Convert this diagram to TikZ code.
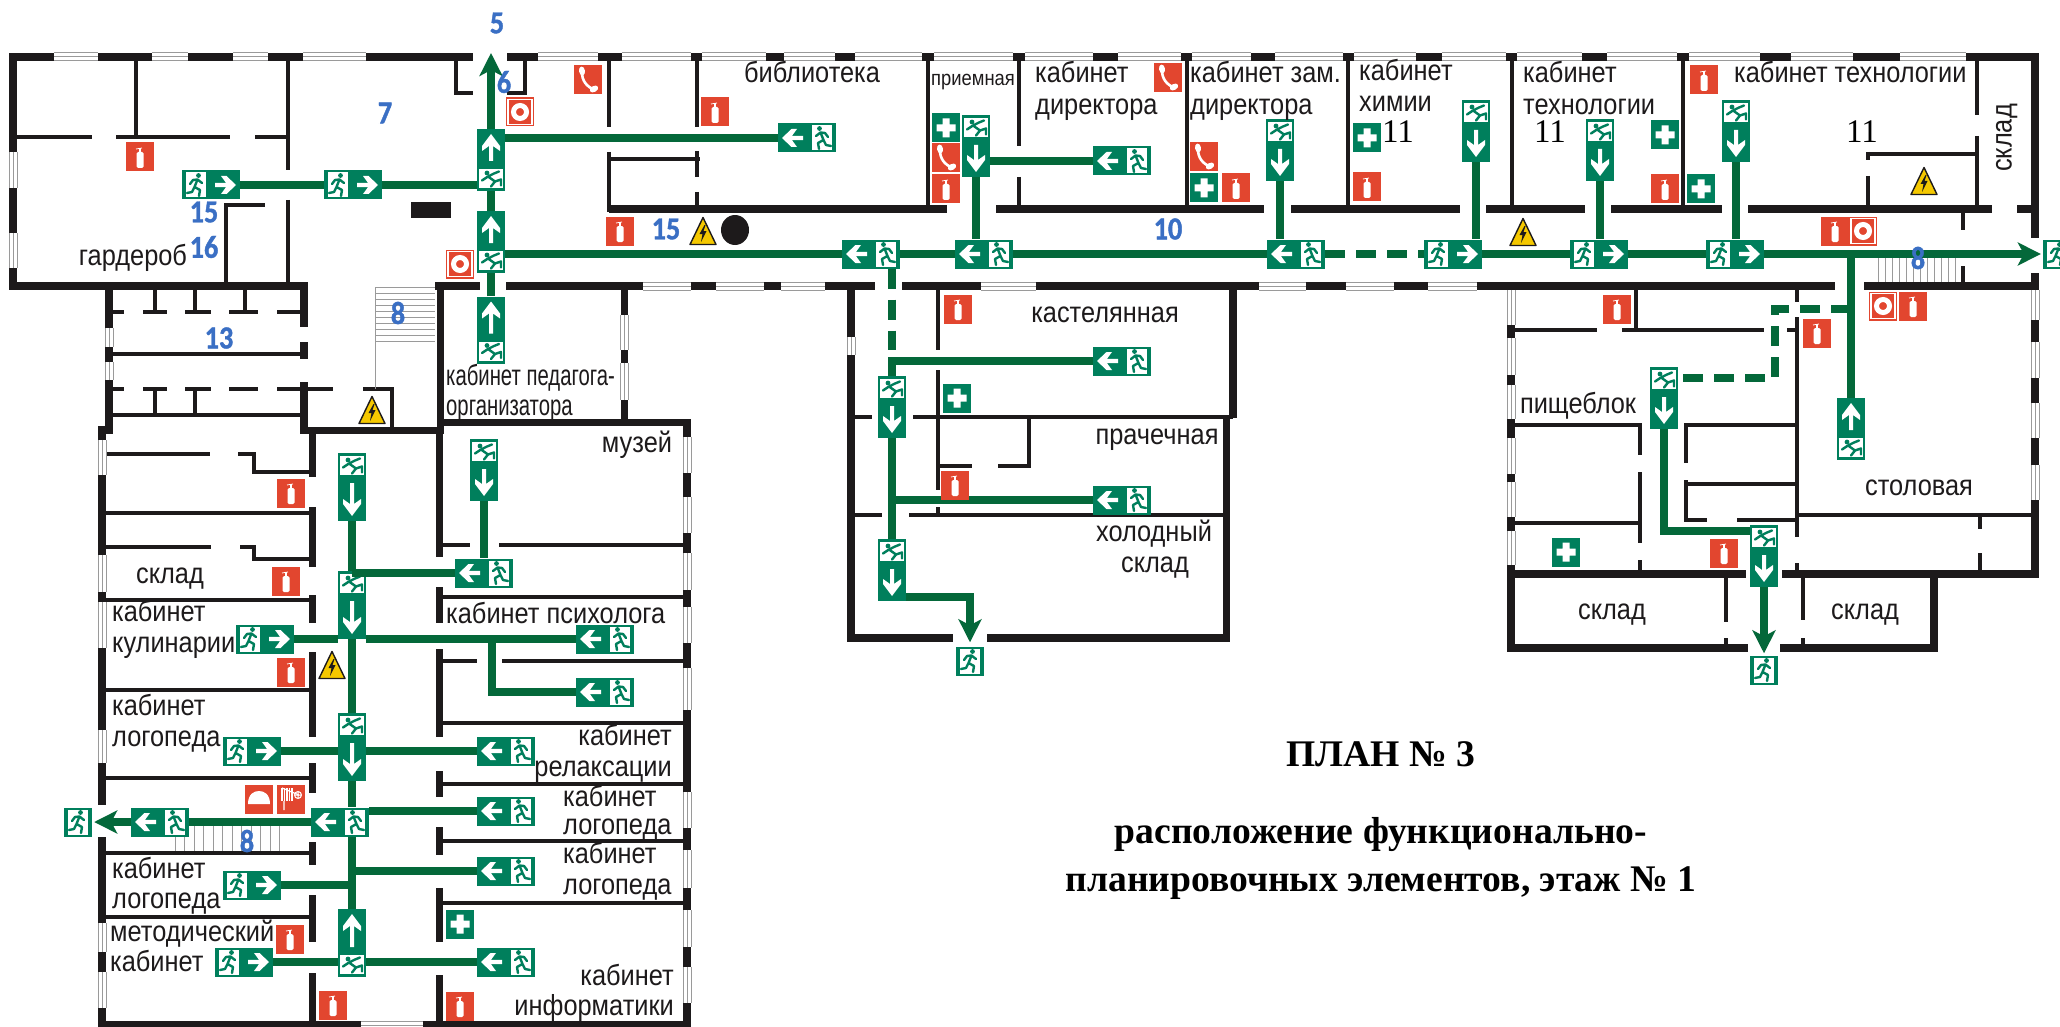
\documentclass[tikz,border=0pt]{standalone}
\usepackage{fontspec}
\setmainfont{Liberation Sans}
\newfontfamily\titlefont{Liberation Serif}
\newfontfamily\lblfont{Liberation Sans}[FakeStretch=.875]
\newfontfamily\narrowfont{Liberation Sans}[FakeStretch=.70]
\newfontfamily\numfont{Carlito}[FakeStretch=.88,BoldFeatures={FakeBold=1.2}]
\usetikzlibrary{arrows.meta}
\definecolor{wallblack}{HTML}{1D1A1B}
\definecolor{routegreen}{HTML}{04683A}
\definecolor{signgreen}{HTML}{007F5C}
\definecolor{signred}{HTML}{E2462F}
\definecolor{warnyellow}{HTML}{F5C800}
\definecolor{numblue}{HTML}{3A6FC4}
\definecolor{wingray}{HTML}{9A9A9A}
\tikzset{
    outerwall/.style={line width=8pt,wallblack},
    midwall/.style={line width=7pt,wallblack},
    thinwall/.style={line width=4pt,wallblack},
    route/.style={line width=8pt,routegreen},
    dashroute/.style={route,dash pattern=on 20pt off 11pt},
    exittip/.style={-{Stealth[length=23pt,width=23pt,inset=6pt]}},
    exith/.style={fill=signgreen,inner sep=0pt,minimum width=58pt,minimum height=29pt},
    exitv/.style={fill=signgreen,inner sep=0pt,minimum width=28pt},
    exitbox/.style={fill=signgreen,inner sep=0pt,minimum width=28pt,minimum height=29pt},
    redbox/.style={fill=signred,inner sep=0pt,minimum width=28pt,minimum height=29pt},
    aidbox/.style={fill=signgreen,inner sep=0pt,minimum width=28pt,minimum height=29pt},
    lbl/.style={inner sep=0pt,text=wallblack,text height=21pt,text depth=6pt,font=\lblfont\fontsize{29}{32}\selectfont},
    lbll/.style={lbl,anchor=west},
    lblr/.style={lbl,anchor=east},
    narrowlbl/.style={lbll,font=\narrowfont\fontsize{29}{32}\selectfont},
    numlbl/.style={inner sep=0pt,text=numblue,font=\numfont\bfseries\fontsize{32}{34}\selectfont},
    roomnum/.style={inner sep=0pt,text=black,font=\titlefont\fontsize{33}{36}\selectfont},
    titlelbl/.style={inner sep=0pt,text=black,font=\titlefont\bfseries\fontsize{37.6}{42}\selectfont},
}
\newcommand{\winH}[3]{%
    \fill[white] (#1,#3-4) rectangle (#2,#3+4);
    \draw[wingray,line width=1pt] (#1,#3-4)--(#2,#3-4) (#1,#3)--(#2,#3) (#1,#3+4)--(#2,#3+4);}
\newcommand{\winV}[3]{%
    \fill[white] (#1-4,#2) rectangle (#1+4,#3);
    \draw[wingray,line width=1pt] (#1-4,#2)--(#1-4,#3) (#1,#2)--(#1,#3) (#1+4,#2)--(#1+4,#3);}
\newcommand{\runman}{%
    \fill[white] (-10,-12.5) rectangle (10,12.5);
    \fill[signgreen] (2.5,-9.5) circle (2.4);
    \draw[signgreen,line width=2.4pt,line cap=round,line join=round] (1.5,-5.5)--(-1.5,2)
        (-6,-1)--(-3,-5)--(1.5,-5.5)--(6,-2) (-1.5,2)--(4,5)--(3,11) (-1.5,2)--(-4,7)--(-9,8);}
\newcommand{\exitH}[4]{%
    \node[exith] (#1) at (#2,#3) {};
    \begin{scope}[shift={(#2,#3)},xscale=#4]
        \begin{scope}[xshift=-15]\runman\end{scope}
        \fill[white] (4,-2.2)--(15,-2.2)--(10,-9)--(15.5,-9)--(25,0)--(15.5,9)--(10,9)--(15,2.2)--(4,2.2)--cycle;
    \end{scope}}
\newcommand{\exitV}[5][62]{%
    \node[exitv,minimum height=#1pt] (#2) at (#3,#4) {};
    \begin{scope}[shift={(#3,#4)},yscale=#5]
        \fill[white] (-12,-#1/2+3) rectangle (12,-#1/2+22);
        \begin{scope}[shift={(0,-#1/2+12.5)},yscale=#5]
            \fill[signgreen] (-4,-5.5) circle (2.4);
            \draw[signgreen,line width=2.4pt,line cap=round,line join=round] (-3,-2)--(4,3)
                (-3,-2)--(-9,2) (-3,-2)--(3,-5)--(8,-7) (4,3)--(0,8) (4,3)--(10,1)--(10,7);
        \end{scope}
        \fill[white] (-2,-#1/2+30)--(2,-#1/2+30)--(2,#1/2-17)--(9,#1/2-22)--(9,#1/2-17)--(0,#1/2-5)--(-9,#1/2-17)--(-9,#1/2-22)--(-2,#1/2-17)--cycle;
    \end{scope}}
\newcommand{\exitOnly}[3]{%
    \node[exitbox] (#1) at (#2,#3) {};
    \begin{scope}[shift={(#2,#3)}]\runman\end{scope}}
\newcommand{\extSign}[3]{%
    \node[redbox] (#1) at (#2,#3) {};
    \begin{scope}[shift={(#2,#3)}]
        \fill[white,rounded corners=1.5pt] (-3.5,-5)--(3.5,-5)--(3.5,11)--(-3.5,11)--cycle;
        \fill[white] (-1.2,-9) rectangle (1.2,-4);
        \draw[white,line width=.8pt] (-4,-8)--(2,-9);
    \end{scope}}
\newcommand{\phoneSign}[3]{%
    \node[redbox] (#1) at (#2,#3) {};
    \begin{scope}[shift={(#2,#3)}]
        \draw[white,line width=2.6pt] (-6,-9) .. controls (-6.5,1) and (-1,7) .. (7,10);
        \fill[white,rotate around={10:(-6,-9)}] (-6,-9) ellipse (3 and 4.5);
        \fill[white,rotate around={-60:(6,9)}] (6,9) ellipse (3 and 4.5);
    \end{scope}}
\newcommand{\aidSign}[3]{%
    \node[aidbox] (#1) at (#2,#3) {};
    \begin{scope}[shift={(#2,#3)}]
        \fill[white] (-3.5,-9.5) rectangle (3.5,9.5) (-9.5,-3.5) rectangle (9.5,3.5);
    \end{scope}}
\newcommand{\hydSign}[3]{%
    \node[redbox] (#1) at (#2,#3) {};
    \begin{scope}[shift={(#2,#3)}]
        \draw[white,line width=1.2pt] (-12,-12.5) rectangle (12,12.5);
        \draw[white,line width=5pt] (0,0) circle (6.5);
    \end{scope}}
\newcommand{\domeSign}[3]{%
    \node[redbox] (#1) at (#2,#3) {};
    \begin{scope}[shift={(#2,#3)}]
        \fill[white] (-11,5) .. controls (-11,-5) and (-5,-8) .. (0,-8) .. controls (5,-8) and (11,-5) .. (11,5)--cycle;
    \end{scope}}
\newcommand{\hoseSign}[3]{%
    \node[redbox] (#1) at (#2,#3) {};
    \begin{scope}[shift={(#2,#3)}]
        \foreach \hx in {-9,-6.5,-4,-1.5,1}{\draw[white,line width=1.2pt] (\hx,-11)--(\hx,2);}
        \draw[white,line width=1.2pt] (-9,-11)--(8,-4) (-7,2)--(-7,11);
        \draw[white,line width=1pt] (7,-4) circle (3.5) (3.5,-4)--(10.5,-4) (7,-7.5)--(7,-.5);
    \end{scope}}
\newcommand{\warnSign}[2]{%
    \begin{scope}[shift={(#1,#2)}]
        \fill[warnyellow,draw=wallblack,line width=1.4pt,line join=round] (0,-13.5)--(13,13.5)--(-13,13.5)--cycle;
        \fill[wallblack] (1.5,-6)--(-3.5,3)--(-.5,3)--(-2,11)--(3.5,0)--(.5,0)--(2.5,-6)--cycle;
    \end{scope}}
\begin{document}
\begin{tikzpicture}[x=1pt,y=-1pt]
    \useasboundingbox (0,0) rectangle (2060,1027);
    \fill[white] (0,0) rectangle (2060,1027);
    \draw[outerwall]
        (9,57)--(473,57) (507,57)--(2039,57)
        (13,57)--(13,290) (9,286)--(308,286)
        (2035,57)--(2035,238) (2035,273)--(2035,578)
        (609,209)--(947,209) (996,209)--(1264,209) (1291,209)--(1460,209)
        (1486,209)--(1585,209) (1611,209)--(1722,209) (1748,209)--(1992,209) (2017,209)--(2039,209)
        (435,286)--(480,286) (506,286)--(875,286) (902,286)--(1835,286) (1864,286)--(2039,286)
        (109,286)--(109,428) (98,430)--(113,430) (304,286)--(304,327) (304,342)--(304,359) (304,382)--(304,434)
        (851,286)--(851,642) (851,638)--(953,638) (987,638)--(1230,638)
        (1233,286)--(1233,418)
        (1511,286)--(1511,652) (1511,648)--(1748,648) (1780,648)--(1938,648)
        (1934,574)--(1934,652) (1511,574)--(1746,574) (1782,574)--(2039,574)
        (102,428)--(102,805) (102,837)--(102,1027) (102,1025)--(687,1025)
        (687,419)--(687,1027);
    \draw[midwall]
        (1226,418)--(1226,642)
        (440,286)--(440,434) (300,430)--(440,430) (437,422)--(690,422) (624,286)--(624,422)
        (312,430)--(312,477) (312,507)--(312,567) (312,595)--(312,623) (312,652)--(312,737)
        (312,763)--(312,793) (312,842)--(312,865) (312,895)--(312,942) (312,973)--(312,1025)
        (439,430)--(439,557) (439,587)--(439,623) (439,649)--(439,737) (439,771)--(439,797)
        (439,827)--(439,855) (439,888)--(439,942) (439,975)--(439,1025);
    \draw[thinwall]
        (136,57)--(136,137) (288,57)--(288,170) (13,137)--(92,137) (116,137)--(230,137) (255,137)--(288,137)
        (226,205)--(226,286) (224,205)--(265,205) (288,200)--(288,286)
        (456,57)--(456,95) (454,93)--(473,93) (525,57)--(525,95) (507,93)--(527,93)
        (609,57)--(609,127) (609,152)--(609,212) (609,159)--(700,159)
        (697,57)--(697,127) (697,151)--(697,177) (697,192)--(697,207)
        (928,57)--(928,209) (1019,57)--(1019,146) (1019,177)--(1019,209) (1187,57)--(1187,209)
        (1348,57)--(1348,209) (1512,57)--(1512,209) (1683,57)--(1683,209)
        (1977,57)--(1977,115) (1977,136)--(1977,209) (1868,154)--(1977,154) (1868,152)--(1868,160) (1868,176)--(1868,209)
        (1963,209)--(1963,230) (1963,266)--(1963,285)
        (109,312)--(124,312) (143,312)--(167,312) (185,312)--(211,312) (229,312)--(258,312) (277,312)--(304,312)
        (155,286)--(155,312) (195,286)--(195,312) (245,286)--(245,312) (109,354)--(304,354)
        (109,389)--(124,389) (143,389)--(167,389) (185,389)--(211,389) (229,389)--(258,389) (277,389)--(333,389) (363,389)--(394,389)
        (155,389)--(155,415) (195,389)--(195,415) (109,415)--(304,415) (392,389)--(392,430)
        (938,286)--(938,350) (938,370)--(938,490) (938,507)--(938,515)
        (851,417)--(872,417) (913,417)--(1233,417) (938,466)--(972,466) (998,466)--(1031,466) (1029,417)--(1029,466)
        (851,515)--(882,515) (909,515)--(1226,515)
        (1636,286)--(1636,330) (1511,330)--(1597,330) (1622,330)--(1764,330) (1787,330)--(1797,330)
        (1797,286)--(1797,302) (1797,317)--(1797,537) (1797,563)--(1797,574)
        (1511,425)--(1642,425) (1640,425)--(1640,455) (1640,472)--(1640,543) (1640,560)--(1640,574) (1511,523)--(1640,523)
        (1684,425)--(1797,425) (1686,425)--(1686,463) (1686,480)--(1686,522) (1686,484)--(1797,484) (1686,520)--(1707,520) (1737,520)--(1797,520)
        (1797,515)--(2035,515) (1980,515)--(1980,529) (1980,553)--(1980,574)
        (1726,574)--(1726,622) (1726,638)--(1726,648) (1803,574)--(1803,620) (1803,638)--(1803,648)
        (102,454)--(210,454) (238,454)--(256,454) (254,454)--(254,472) (252,472)--(312,472)
        (102,513)--(312,513) (102,547)--(211,547) (240,547)--(256,547) (254,547)--(254,559) (252,559)--(312,559)
        (102,600)--(312,600) (102,690)--(312,690) (102,778)--(312,778) (102,853)--(312,853) (102,917)--(312,917)
        (439,545)--(470,545) (499,545)--(687,545) (439,597)--(687,597) (439,661)--(477,661) (502,661)--(687,661)
        (439,723)--(687,723) (439,784)--(687,784) (439,841)--(687,841) (439,903)--(687,903);
    \foreach \wa/\wb in {54/98,152/188,233/268,303/366,538/598,622/691,702/766,784/835,855/922,934/1013,1025/1093,1118/1181,1192/1251,1275/1343,1354/1416,1442/1506,1517/1582,1607/1677,1689/1760,1791/1853,1900/1966}{\winH{\wa}{\wb}{57}}
    \foreach \wa/\wb in {643/691,716/764,781/825,981/1036,1259/1306,1346/1394,1428/1477}{\winH{\wa}{\wb}{286}}
    \winH{361}{423}{1025}
    \foreach \wa/\wb in {152/188,233/268}{\winV{13}{\wa}{\wb}}
    \foreach \wa/\wb in {328/347,362/380}{\winV{109}{\wa}{\wb}}
    \foreach \wa/\wb in {315/350,363/400}{\winV{624}{\wa}{\wb}}
    \winV{851}{337}{355}
    \foreach \wa/\wb in {290/325,338/375,385/419,438/474,482/517,531/565}{\winV{1511}{\wa}{\wb}}
    \foreach \wa/\wb in {290/320,342/378,403/438,465/500}{\winV{2035}{\wa}{\wb}}
    \foreach \wa/\wb in {440/475,555/592,602/648,730/763,923/952,972/1008}{\winV{102}{\wa}{\wb}}
    \foreach \wa/\wb in {437/473,497/533,553/590,607/643,668/710,792/828,850/888,910/947,967/1003}{\winV{687}{\wa}{\wb}}
    \draw[wingray,line width=.8pt] (375,287)--(375,389);
    \foreach \sy in {287,293,...,343}{\draw[wingray,line width=.8pt] (375,\sy)--(435,\sy);}
    \foreach \sx in {1878,1885,...,1956}{\draw[wingray,line width=.8pt] (\sx,257)--(\sx,282);}
    \foreach \sx in {175,184.5,...,286}{\draw[wingray,line width=.8pt] (\sx,825)--(\sx,851);}
    \fill[wallblack] (411,202) rectangle (451,218);
    \fill[wallblack] (735,230) ellipse (14 and 15);
    \coordinate (topexit) at (491,53);
    \coordinate (kastturn) at (892,350);
    \coordinate (kholturn) at (970,597);
    \coordinate (stoldasha) at (1775,309);
    \coordinate (stoldashb) at (1775,378);
    \coordinate (pishturn) at (1664,531);
    \coordinate (psybranch) at (492,639);
    \coordinate (logturn) at (492,692);
    \exitH{garderob}{211}{185}{1}
    \exitH{holl}{353}{185}{1}
    \exitV{vhoda}{491}{160}{-1}
    \exitV{vhodb}{491}{242}{-1}
    \exitV[67]{pedagog}{491}{330}{-1}
    \exitH{bibl}{807}{138}{-1}
    \exitH{kora}{871}{254}{-1}
    \exitH{korb}{984}{254}{-1}
    \exitH{korc}{1296}{254}{-1}
    \exitH{kord}{1453}{254}{1}
    \exitH{kore}{1599}{254}{1}
    \exitH{korf}{1735}{254}{1}
    \exitOnly{exiteast}{2057}{254}
    \exitV{priem}{976}{146}{1}
    \exitH{direktor}{1122}{161}{-1}
    \exitV{zam}{1280}{150}{1}
    \exitV{himiya}{1476}{131}{1}
    \exitV{tehna}{1600}{150}{1}
    \exitV{tehnb}{1736}{131}{1}
    \exitH{kast}{1122}{361}{-1}
    \exitV{kastv}{892}{407}{1}
    \exitH{prach}{1122}{500}{-1}
    \exitV{kholod}{892}{570}{1}
    \exitOnly{exitkhol}{970}{661}
    \exitV{stol}{1851}{429}{-1}
    \exitV{pish}{1664}{398}{1}
    \exitV{sklv}{1764}{556}{1}
    \exitOnly{exitskl}{1764}{670}
    \exitV[68]{corra}{352}{487}{1}
    \exitV{muzv}{484}{470}{1}
    \exitH{muzh}{484}{573}{-1}
    \exitV[68]{corrb}{352}{605}{1}
    \exitH{kul}{265}{639}{1}
    \exitH{psy}{605}{639}{-1}
    \exitH{psyb}{605}{692}{-1}
    \exitV[68]{corrc}{352}{747}{1}
    \exitH{logl}{252}{751}{1}
    \exitH{relax}{506}{751}{-1}
    \exitH{lestn}{340}{822}{-1}
    \exitH{lestnb}{160}{822}{-1}
    \exitOnly{exitwest}{78}{822}
    \exitH{loga}{506}{811}{-1}
    \exitH{logb}{506}{871}{-1}
    \exitH{logc}{252}{885}{1}
    \exitV[68]{corrd}{352}{943}{-1}
    \exitH{metod}{244}{962}{1}
    \exitH{inform}{506}{962}{-1}
    \draw[route,exittip] (vhoda.north)--(topexit);
    \draw[route] (vhodb.north)--(vhoda.south);
    \draw[route] (pedagog.north)--(vhodb.south);
    \draw[route] (garderob.east)--(holl.west);
    \draw[route] (holl.east)--(holl.east -| vhoda.west);
    \draw[route] (bibl.west)--(bibl.west -| vhoda.east);
    \draw[route] (kora.west)--(kora.west -| vhodb.east);
    \draw[route] (kora.east)--(korb.west);
    \draw[route] (korb.east)--(korc.west);
    \draw[dashroute] (korc.east)--(kord.west);
    \draw[route] (kord.east)--(kore.west);
    \draw[route] (kore.east)--(korf.west);
    \draw[route,exittip,shorten >=2pt] (korf.east)--(exiteast.west);
    \draw[route] (priem.south)--(priem.south |- korb.north);
    \draw[route] (direktor.west)--(direktor.west -| priem.east);
    \draw[route] (zam.south)--(zam.south |- korc.north);
    \draw[route] (himiya.south)--(himiya.south |- kord.north);
    \draw[route] (tehna.south)--(tehna.south |- kore.north);
    \draw[route] (tehnb.south)--(tehnb.south |- korf.north);
    \draw[dashroute] (kastv.north |- kora.south)--(kastturn);
    \draw[route,line join=miter] (kast.west)--(kast.west -| kastv.north)--(kastv.north);
    \draw[route] (kastv.south)--(kholod.north);
    \draw[route] (prach.west)--(prach.west -| kastv.south);
    \draw[route,exittip,shorten >=4pt] (kholod.east |- kholturn)--(kholturn)--(exitkhol.north);
    \draw[route] (stol.north)--(stol.north |- korf.east);
    \draw[dashroute] (stol.north |- stoldasha)--(stoldasha)--(stoldashb)--(stoldashb -| pish.east);
    \draw[route] (pish.south)--(pishturn)--(pishturn -| sklv.west);
    \draw[route,exittip,shorten >=2pt] (sklv.south)--(exitskl.north);
    \draw[route] (corra.south)--(corrb.north);
    \draw[route] (muzv.south)--(muzh.north);
    \draw[route] (muzh.west)--(muzh.west -| corra.south);
    \draw[route] (kul.east)--(kul.east -| corrb.west);
    \draw[route] (psy.west)--(psy.west -| corrb.east);
    \draw[route] (psybranch)--(logturn)--(psyb.west);
    \draw[route] (corrb.south)--(corrc.north);
    \draw[route] (logl.east)--(logl.east -| corrc.west);
    \draw[route] (relax.west)--(relax.west -| corrc.east);
    \draw[route] (corrc.south)--(corrc.south |- lestn.north);
    \draw[route] (corrc.south |- lestn.south)--(corrd.north);
    \draw[route] (loga.west)--(loga.west -| lestn.east);
    \draw[route] (lestn.west)--(lestnb.east);
    \draw[route,exittip,shorten >=2pt] (lestnb.west)--(exitwest.east);
    \draw[route] (logb.west)--(logb.west -| corrd.north);
    \draw[route] (logc.east)--(logc.east -| corrd.north);
    \draw[route] (metod.east)--(metod.east -| corrd.west);
    \draw[route] (inform.west)--(inform.west -| corrd.east);
    \extSign{exta}{140}{157}
    \phoneSign{pha}{588}{80}
    \hydSign{hyda}{520}{112}
    \extSign{extb}{620}{231}
    \hydSign{hydb}{460}{264}
    \extSign{extc}{715}{112}
    \aidSign{aida}{946}{128}
    \phoneSign{phb}{946}{158}
    \extSign{extd}{946}{189}
    \phoneSign{phc}{1168}{78}
    \phoneSign{phd}{1204}{157}
    \aidSign{aidb}{1204}{188}
    \extSign{exte}{1236}{188}
    \aidSign{aidc}{1367}{138}
    \extSign{extf}{1367}{187}
    \aidSign{aidd}{1665}{135}
    \extSign{extg}{1665}{189}
    \aidSign{aide}{1701}{189}
    \extSign{exth}{1704}{80}
    \extSign{exti}{1835}{231}
    \hydSign{hydc}{1863}{231}
    \extSign{extj}{1617}{309}
    \hydSign{hydd}{1883}{306}
    \extSign{extk}{1913}{306}
    \extSign{extl}{1817}{333}
    \aidSign{aidf}{1566}{552}
    \extSign{extm}{1724}{553}
    \extSign{extn}{958}{309}
    \aidSign{aidg}{957}{398}
    \extSign{exto}{955}{485}
    \extSign{extp}{291}{493}
    \extSign{extq}{286}{581}
    \extSign{extr}{291}{672}
    \domeSign{domea}{259}{799}
    \hoseSign{hosea}{291}{799}
    \extSign{exts}{290}{939}
    \aidSign{aidh}{460}{924}
    \extSign{extt}{333}{1005}
    \extSign{extu}{460}{1006}
    \warnSign{703}{231}
    \warnSign{372}{410}
    \warnSign{1523}{232}
    \warnSign{1924}{181}
    \warnSign{332}{665}
    \node[lbl] (garder) at (133,258) {гардероб};
    \node[lbl] (biblt) at (812,75) {библиотека};
    \node[inner sep=0pt,text=wallblack,font=\lblfont\fontsize{21}{24}\selectfont] (priemt) at (973,82) {приемная};
    \node[lbll] (dira) at (1035,75) {кабинет};
    \node[lbll] (dirb) at (1035,107) {директора};
    \node[lbll] (zama) at (1190,75) {кабинет зам.};
    \node[lbll] (zamb) at (1190,107) {директора};
    \node[lbll] (hima) at (1359,73) {кабинет};
    \node[lbll] (himb) at (1359,104) {химии};
    \node[lbll] (teha) at (1523,75) {кабинет};
    \node[lbll] (tehb) at (1523,107) {технологии};
    \node[lbll] (tehc) at (1734,75) {кабинет технологии};
    \node[lbl,rotate=90] (sklright) at (2004,138) {склад};
    \node[narrowlbl] (peda) at (446,378) {кабинет педагога-};
    \node[narrowlbl] (pedb) at (446,408) {организатора};
    \node[lbl] (kastt) at (1105,315) {кастелянная};
    \node[lbl] (pracht) at (1157,437) {прачечная};
    \node[lbl] (kholt) at (1154,534) {холодный};
    \node[lbl] (sklkh) at (1155,565) {склад};
    \node[lbl] (pisht) at (1578,406) {пищеблок};
    \node[lbl] (stolt) at (1919,488) {столовая};
    \node[lbl] (skla) at (1612,612) {склад};
    \node[lbl] (sklb) at (1865,612) {склад};
    \node[lbl] (muzt) at (637,445) {музей};
    \node[lbl] (sklc) at (170,576) {склад};
    \node[lbll] (kula) at (112,614) {кабинет};
    \node[lbll] (kulb) at (112,645) {кулинарии};
    \node[lbll] (psyt) at (446,616) {кабинет психолога};
    \node[lbll] (loa) at (112,708) {кабинет};
    \node[lbll] (lob) at (112,739) {логопеда};
    \node[lblr] (rela) at (672,738) {кабинет};
    \node[lblr] (relb) at (672,769) {релаксации};
    \node[lbll] (loc) at (563,799) {кабинет};
    \node[lbll] (lod) at (563,827) {логопеда};
    \node[lbll] (loe) at (563,856) {кабинет};
    \node[lbll] (lof) at (563,887) {логопеда};
    \node[lbll] (log) at (112,871) {кабинет};
    \node[lbll] (loh) at (112,901) {логопеда};
    \node[lbll] (meta) at (110,934) {методический};
    \node[lbll] (metb) at (110,964) {кабинет};
    \node[lblr] (infa) at (674,978) {кабинет};
    \node[lblr] (infb) at (674,1008) {информатики};
    \node[numlbl] (numa) at (497,23) {5};
    \node[numlbl] (numb) at (504,82) {6};
    \node[numlbl] (numc) at (385,113) {7};
    \node[numlbl] (numd) at (204,212) {15};
    \node[numlbl] (nume) at (204,247) {16};
    \node[numlbl] (numf) at (666,229) {15};
    \node[numlbl] (numg) at (398,313) {8};
    \node[numlbl] (numh) at (219,338) {13};
    \node[numlbl] (numi) at (1168,229) {10};
    \node[numlbl] (numj) at (1918,258) {8};
    \node[numlbl] (numk) at (247,841) {8};
    \node[roomnum] (ela) at (1398,132) {11};
    \node[roomnum] (elb) at (1550,132) {11};
    \node[roomnum] (elc) at (1862,132) {11};
    \node[titlelbl] (plan) at (1381,754) {ПЛАН № 3};
    \node[titlelbl] (plana) at (1381,835) {расположение функционально-};
    \node[titlelbl] (planb) at (1381,883) {планировочных элементов, этаж № 1};
\end{tikzpicture}
\end{document}
